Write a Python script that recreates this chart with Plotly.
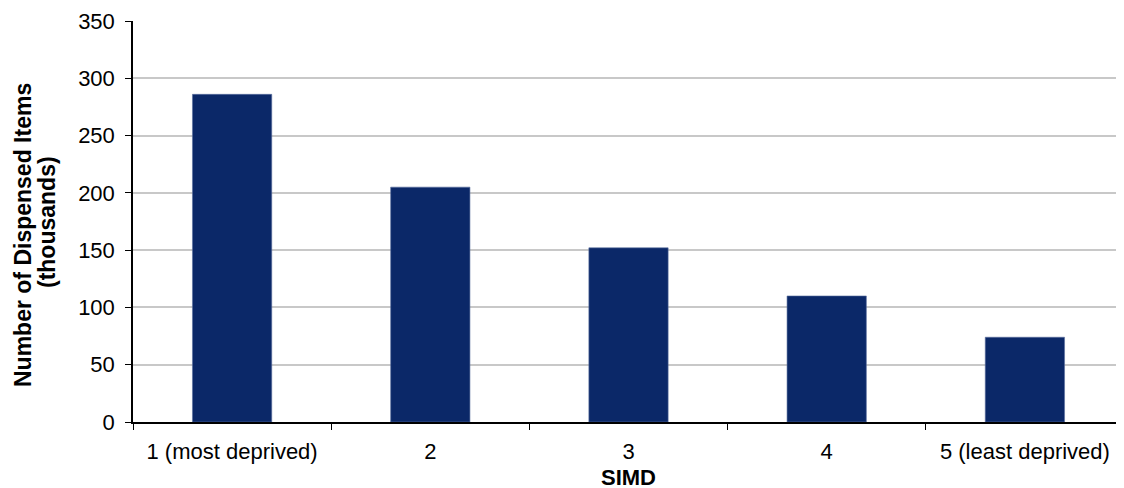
import plotly.graph_objects as go

categories = ["1 (most deprived)", "2", "3", "4", "5 (least deprived)"]
items_thousands = [286, 205, 152, 110, 74]
y_ticks = [0, 50, 100, 150, 200, 250, 300, 350]

FONT = "Liberation Sans, Arial, sans-serif"
FS = 22

# figure is offset by the page's 8px body margin
L, R, T, B = 125, 8, 13, 74
PW = 1124 - L - R
PH = 488 - T - B

fig = go.Figure()
fig.add_trace(go.Bar(
    x=categories,
    y=items_thousands,
    marker=dict(color="#0b2868", line=dict(color="#5a6f9e", width=0.6)),
    width=0.4,
))

fig.update_layout(
    width=1124, height=488,
    margin=dict(l=L, r=R, t=T, b=B, autoexpand=False),
    paper_bgcolor="white", plot_bgcolor="white",
    showlegend=False,
    font=dict(family=FONT, size=FS, color="black"),
)
fig.update_yaxes(
    range=[0, 350], tickvals=y_ticks, automargin=False,
    showgrid=True, gridcolor="#c8c8c8", gridwidth=1.5,
    showline=True, linecolor="black", linewidth=1.5,
    ticks="outside", ticklen=6, tickcolor="black",
    tickfont=dict(size=FS), ticklabelstandoff=6, zeroline=False,
)
fig.update_xaxes(
    automargin=False,
    showline=True, linecolor="black", linewidth=1.5,
    ticks="outside", ticklen=6, tickcolor="black", tickson="boundaries",
    tickfont=dict(size=FS), ticklabelstandoff=9,
)
fig.add_annotation(
    xref="paper", yref="paper",
    x=(15 - L) / PW, y=(PH - (227 - T)) / PH,
    text="<b>Number of Dispensed Items</b>",
    textangle=-90, showarrow=False, font=dict(size=23),
    xanchor="center", yanchor="middle",
)
fig.add_annotation(
    xref="paper", yref="paper",
    x=(39 - L) / PW, y=(PH - (214 - T)) / PH,
    text="<b>(thousands)</b>",
    textangle=-90, showarrow=False, font=dict(size=23),
    xanchor="center", yanchor="middle",
)
fig.add_annotation(
    xref="paper", yref="paper",
    x=0.5, y=(PH - (469 - T)) / PH,
    text="<b>SIMD</b>",
    showarrow=False, font=dict(size=FS),
    xanchor="center", yanchor="middle",
)

fig.write_html("out.html")
